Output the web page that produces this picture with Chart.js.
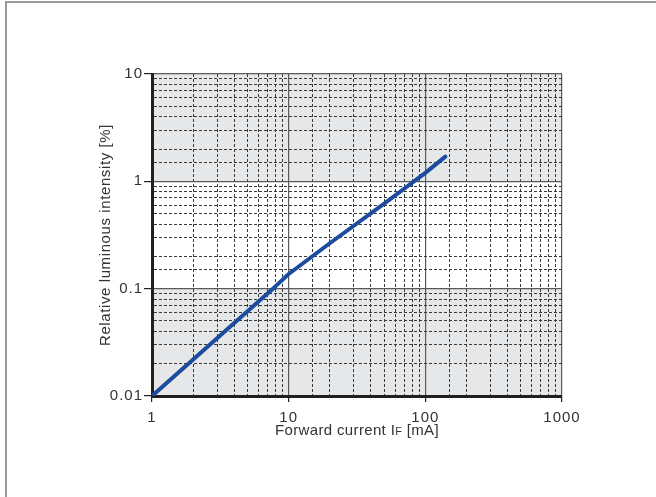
<!DOCTYPE html>
<html>
<head>
<meta charset="utf-8">
<script src="https://cdn.jsdelivr.net/npm/chart.js@4.4.0/dist/chart.umd.min.js"></script>
<style>
body { margin: 0; background: #fff; overflow: hidden; }
#wrap { position: relative; width: 656px; height: 497px; }
#frame { position: absolute; left: 5px; top: 1px; right: 0; bottom: 0; border-top: 2px solid #9b9b9b; border-left: 2px solid #9b9b9b; pointer-events: none; }
</style>
</head>
<body>
<div id="wrap">
<canvas id="myChart" width="656" height="497"></canvas>
<div id="frame"></div>
</div>
<script>
// forward current (mA) vs relative luminous intensity (%)
var current = [1, 2, 5, 8, 10, 20, 50, 100, 140];
var intensity = [0.01, 0.0219, 0.0617, 0.105, 0.137, 0.265, 0.62, 1.2, 1.7];
var xTickLabels = ['1', '10', '100', '1000'];
var yTickLabels = ['0.01', '0.1', '1', '10'];
var grayBands = [[0.01, 0.1], [1, 10]];

var FONT = '"Liberation Sans", Arial, sans-serif';
var TEXT = '#333';

function isDecade(v) {
    var l = Math.log10(v);
    return Math.abs(l - Math.round(l)) < 1e-6;
}
function tickMajor(c) {
    return c.tick && isDecade(c.tick.value);
}

var bands = {
    id: 'bands',
    beforeDraw: function (chart) {
        var ctx = chart.ctx, a = chart.chartArea, y = chart.scales.y;
        ctx.letterSpacing = '1px';
        ctx.save();
        ctx.fillStyle = '#e6e7e8';
        grayBands.forEach(function (b) {
            var top = y.getPixelForValue(b[1]);
            var bottom = y.getPixelForValue(b[0]);
            ctx.fillRect(a.left, top, a.right - a.left, bottom - top);
        });
        ctx.restore();
    },
    afterDraw: function (chart) {
        var ctx = chart.ctx, a = chart.chartArea;
        ctx.save();
        ctx.fillStyle = TEXT;
        // y title
        ctx.letterSpacing = '0.6px';
        ctx.font = '15px ' + FONT;
        ctx.textAlign = 'center';
        ctx.textBaseline = 'middle';
        ctx.translate(106, (a.top + a.bottom) / 2);
        ctx.rotate(-Math.PI / 2);
        ctx.fillText('Relative luminous intensity [%]', 0, 0);
        ctx.restore();

        // x title with small F
        ctx.save();
        ctx.fillStyle = TEXT;
        ctx.letterSpacing = '0.35px';
        ctx.textBaseline = 'alphabetic';
        ctx.textAlign = 'left';
        var p1 = 'Forward current I', p2 = 'F', p3 = ' [mA]';
        ctx.font = '15px ' + FONT;
        var w1 = ctx.measureText(p1).width, w3 = ctx.measureText(p3).width;
        ctx.font = '11px ' + FONT;
        var w2 = ctx.measureText(p2).width;
        var x = (a.left + a.right) / 2 - (w1 + w2 + w3) / 2;
        var base = 435;
        ctx.font = '15px ' + FONT;
        ctx.fillText(p1, x, base);
        ctx.font = '11px ' + FONT;
        ctx.fillText(p2, x + w1, base);
        ctx.font = '15px ' + FONT;
        ctx.fillText(p3, x + w1 + w2, base);
        ctx.restore();
    }
};

function gridOpts(len) {
    return {
        color: function (c) { return tickMajor(c) ? '#5a5a5a' : '#3a3a3a'; },
        lineWidth: function (c) { return tickMajor(c) ? 1.2 : 1; },
        tickLength: len,
        tickColor: function (c) { return tickMajor(c) ? '#231f20' : 'rgba(0,0,0,0)'; },
        tickWidth: function (c) { return tickMajor(c) ? 1.2 : 0; }
    };
}
var borderOpts = {
    color: '#231f20',
    width: 3,
    dash: function (c) { return (c.tick && !isDecade(c.tick.value)) ? [3, 2] : []; }
};

var ctx = document.getElementById('myChart').getContext('2d');
var myChart = new Chart(ctx, {
    type: 'line',
    data: {
        datasets: [{
            data: current.map(function (x, i) { return { x: x, y: intensity[i] }; }),
            borderColor: '#1c4c9e',
            borderWidth: 4,
            pointRadius: 0,
            tension: 0,
            borderCapStyle: 'round',
            borderJoinStyle: 'round'
        }]
    },
    options: {
        responsive: false,
        devicePixelRatio: 1,
        animation: false,
        layout: { padding: { left: 0, top: 74, right: 94, bottom: 0 } },
        plugins: { legend: { display: false }, tooltip: { enabled: false } },
        scales: {
            x: {
                type: 'logarithmic',
                min: 1,
                max: 1000,
                grid: gridOpts(6),
                border: borderOpts,
                ticks: {
                    autoSkip: false,
                    maxRotation: 0,
                    padding: 7,
                    color: TEXT,
                    font: { family: FONT, size: 15 },
                    callback: function (v) {
                        return isDecade(v) ? xTickLabels[Math.round(Math.log10(v))] : '';
                    }
                },
                afterFit: function (s) { s.height = 101; }
            },
            y: {
                type: 'logarithmic',
                min: 0.01,
                max: 10,
                grid: gridOpts(8),
                border: borderOpts,
                ticks: {
                    autoSkip: false,
                    padding: 1,
                    color: TEXT,
                    font: { family: FONT, size: 15 },
                    callback: function (v) {
                        return isDecade(v) ? yTickLabels[Math.round(Math.log10(v)) + 2] : '';
                    }
                },
                afterFit: function (s) { s.width = 152; }
            }
        }
    },
    plugins: [bands]
});
</script>
</body>
</html>
